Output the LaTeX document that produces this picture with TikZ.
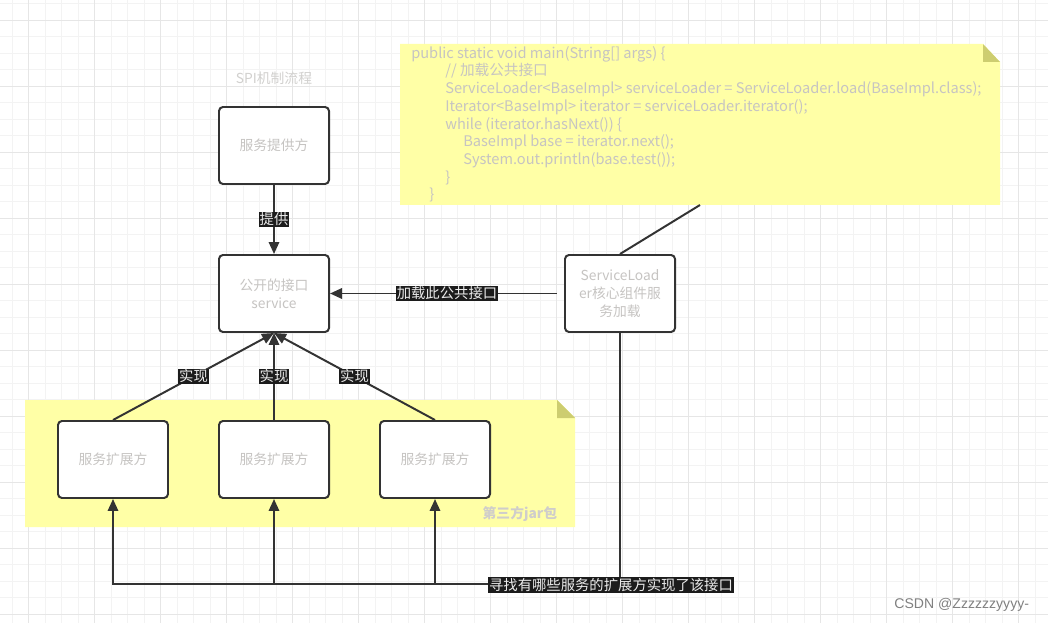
\documentclass[tikz,border=0pt]{standalone}
\usepackage{fontspec}
\setmainfont{Noto Sans CJK SC}
\newfontfamily\cjk{Noto Sans CJK SC}
\newfontfamily\wmfont{Liberation Sans}
\usetikzlibrary{arrows.meta}
\definecolor{boxline}{HTML}{333333}
\definecolor{greytext}{HTML}{C6C4C2}
\definecolor{notefill}{HTML}{FFFFA6}
\definecolor{foldfill}{HTML}{CDCD70}
\definecolor{lblfill}{HTML}{1C1C1C}
\definecolor{minorgrid}{HTML}{F3F3F3}
\definecolor{majorgrid}{HTML}{E6E6E6}

\begin{document}
\begin{tikzpicture}[%
x=0.025cm, y=-0.025cm,
every node/.style={font=\fontsize{9.8}{12.8}\selectfont},
box/.style={draw=boxline, line width=1.4pt, rounded corners=0.1cm, fill=white,
    text=greytext, minimum width=2.75cm, minimum height=1.925cm, align=center},
link/.style={draw=boxline, line width=1.4pt},
arr/.style={link, -{Triangle[length=0.3cm,width=0.26cm]}},
lbl/.style={fill=lblfill, text=white!92!black, inner sep=0.7pt,
    font=\fontsize{10.2}{12.8}\selectfont}]
\useasboundingbox[fill=white] (0,0) rectangle (1048,623);

% grid paper
\foreach \i in {0,...,63} \draw[minorgrid, line width=0.7pt] ({12+16.5*\i},0) -- ++(0,623);
\foreach \i in {0,...,37} \draw[minorgrid, line width=0.7pt] (0,{3.5+16.5*\i}) -- ++(1048,0);
\foreach \i in {0,...,15} \draw[majorgrid, line width=0.7pt] ({28.5+66*\i},0) -- ++(0,623);
\foreach \i in {0,...,9} \draw[majorgrid, line width=0.7pt] (0,{20+66*\i}) -- ++(1048,0);

% notes
\fill[notefill] (400,44) -- (983,44) -- (1000,62) -- (1000,205) -- (400,205) -- cycle;
\fill[foldfill] (983,44) -- (1000,62) -- (983,62) -- cycle;
\fill[notefill] (25,400) -- (557,400) -- (575,418) -- (575,527) -- (25,527) -- cycle;
\fill[foldfill] (557,400) -- (575,418) -- (557,418) -- cycle;
\coordinate (codebot) at (700,205);

\node[anchor=north west, inner sep=0pt, align=left, text=greytext,
    font=\fontsize{10.4}{12.6}\selectfont] (code) at (411,46) {%
public static void main(String[] args) \{\\
\hspace*{24.2pt}// 加载公共接口\\
\hspace*{24.2pt}ServiceLoader<BaseImpl> serviceLoader = ServiceLoader.load(BaseImpl.class);\\
\hspace*{24.2pt}Iterator<BaseImpl> iterator = serviceLoader.iterator();\\
\hspace*{24.2pt}while (iterator.hasNext()) \{\\
\hspace*{37pt}BaseImpl base = iterator.next();\\
\hspace*{37pt}System.out.println(base.test());\\
\hspace*{24.2pt}\}\\
\hspace*{12.8pt}\}};
\node[anchor=east, text=greytext!85!white, font=\bfseries\fontsize{9.8}{12.8}\selectfont] (jar) at (562,514) {第三方jar包};

% boxes
\node[text=greytext!80!white] (title) at (274,78) {SPI机制流程};
\node[box] (prov) at (274,145.5) {服务提供方};
\node[box] (iface) at (274,293.5) {公开的接口\\service};
\node[box] (loader) at (620,293.5) {ServiceLoad\\er核心组件服\\务加载};
\node[box] (ext1) at (113,459.5) {服务扩展方};
\node[box] (ext2) at (274,459.5) {服务扩展方};
\node[box] (ext3) at (435,459.5) {服务扩展方};

% connectors
\draw[arr] (prov) -- node[lbl]{提供} (iface);
\draw[arr, shorten <=0.18cm] (loader) -- node[lbl]{加载此公共接口} (iface);
\foreach \e in {ext1,ext2,ext3}
    \draw[arr] (\e.north) -- node[lbl]{实现} (iface.south);
\draw[link] (loader.north) -- (codebot);
\coordinate (bot) at (620,584);
\draw[arr] (loader.south) -- (bot) -| (ext3.south);
\draw[arr] (bot) -| (ext2.south);
\draw[arr] (bot) -| (ext1.south);
\node[lbl] (find) at (611,585) {寻找有哪些服务的扩展方实现了该接口};

\node[anchor=east, text=gray, font=\wmfont\fontsize{10}{12}\selectfont] (mark) at (1034,605) {CSDN @Zzzzzzyyyy-};
\end{tikzpicture}
\end{document}
